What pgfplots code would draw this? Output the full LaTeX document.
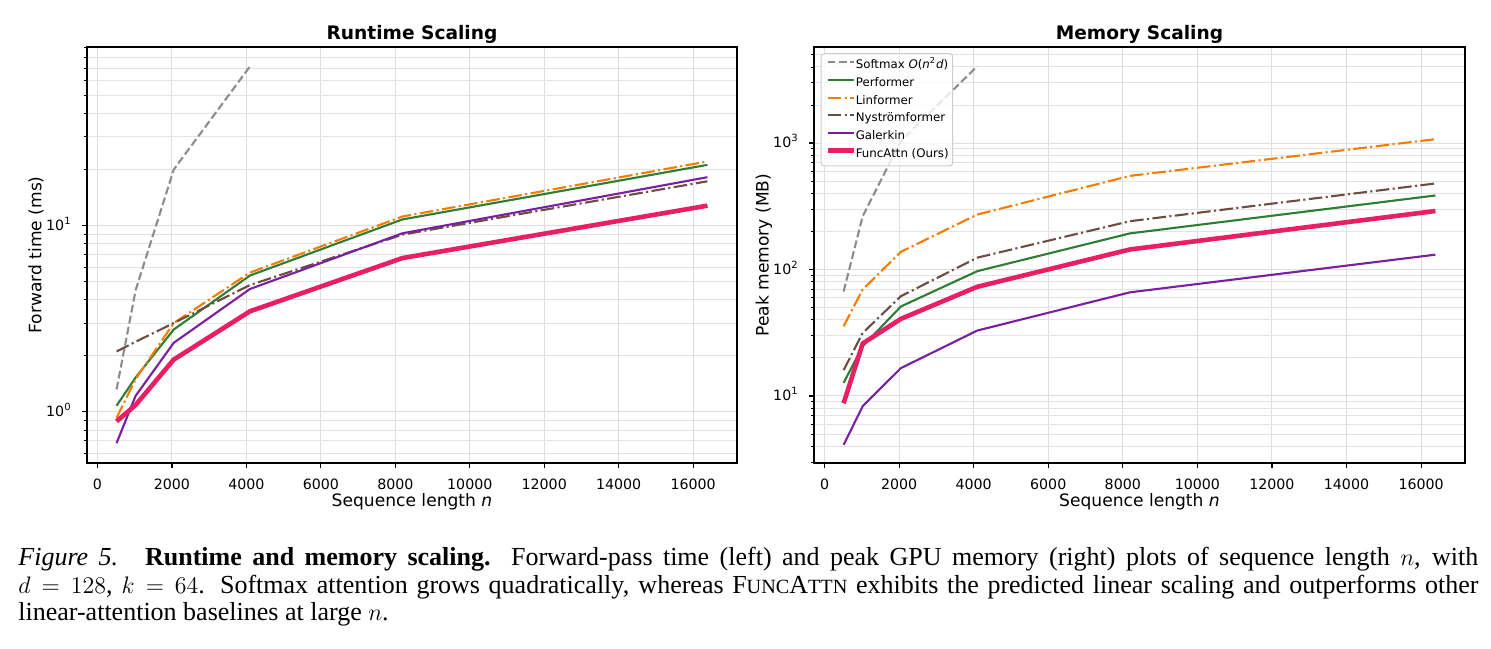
\documentclass[border=0pt]{standalone}
\usepackage{fontspec}
\setmainfont{Liberation Serif}
\newfontfamily\dejavu{DejaVu Sans}
\usepackage{pgfplots}
\pgfplotsset{compat=1.18}

\definecolor{cSoft}{RGB}{140,140,140}
\definecolor{cPerf}{HTML}{2E7D32}
\definecolor{cLin}{HTML}{F57C00}
\definecolor{cNys}{HTML}{6D4C41}
\definecolor{cGal}{HTML}{7B1FA2}
\definecolor{cFunc}{HTML}{E91E63}

\newcommand\fakesc[1]{{\fontsize{10.1bp}{12bp}\selectfont #1}}

\pgfplotsset{
  scalingaxis/.style={
    scale only axis, width=325bp, height=208bp,
    xmin=-282, xmax=17178,
    xtick={0,2000,...,16000},
    scaled x ticks=false,
    axis line style={black, line width=0.55bp},
    tick align=outside, tick pos=left,
    major tick length=2.5bp, minor tick length=1.45bp,
    every tick/.style={black, line width=0.55bp},
    every minor tick/.style={black, line width=0.4bp},
    grid=both,
    major grid style={black!13, line width=0.5bp},
    minor grid style={black!11, line width=0.45bp},
    /pgf/number format/assume math mode=true,
    /pgf/number format/set thousands separator={},
    ticklabel style={font=\dejavu\fontsize{7.1bp}{8.5bp}\selectfont, inner sep=0pt},
    xticklabel style={anchor=base, yshift=-11bp},
    yticklabel style={anchor=mid east, xshift=-5bp},
    xlabel={Sequence length \textit{n}},
    every axis x label/.style={at={(axis description cs:0.5,0)}, anchor=base,
      yshift=-21.85bp, font=\dejavu\fontsize{8.55bp}{10bp}\selectfont, inner sep=0pt},
    every axis title/.style={at={(axis description cs:0.5,1)}, anchor=base,
      yshift=3.85bp, font=\dejavu\bfseries\fontsize{9.3bp}{11bp}\selectfont, inner sep=0pt},
    every axis plot/.append style={line join=round},
  },
  softmax/.style={cSoft, line width=1.05bp, dash pattern=on 3.9bp off 1.7bp},
  performer/.style={cPerf, line width=1.05bp},
  linformer/.style={cLin, line width=1.05bp, dash pattern=on 6.8bp off 1.7bp on 1.05bp off 1.7bp},
  nystrom/.style={cNys, line width=1.05bp, dash pattern=on 6.8bp off 1.7bp on 1.05bp off 1.7bp},
  galerkin/.style={cGal, line width=1.05bp},
  funcattn/.style={cFunc, line width=2.3bp},
}

\begin{document}
\begin{tikzpicture}
\useasboundingbox (0,0) rectangle (745.5bp,324.5bp);

% ---------------- forward time ----------------
\begin{axis}[ymode=log, scalingaxis, at={(43.5bp,93bp)}, anchor=south west,
  title={Runtime Scaling},
  ymin=0.532, ymax=91,
  ytick={1,10}, yticklabels={10\textsuperscript{0},10\textsuperscript{1}},
  minor ytick={0.6,0.7,0.8,0.9,2,3,4,5,6,7,8,9,20,30,40,50,60,70,80,90},
  ylabel={Forward time (ms)},
  every axis y label/.style={at={(axis description cs:-0.0785,0.5)}, rotate=90,
    anchor=center, font=\dejavu\fontsize{8.55bp}{10bp}\selectfont, inner sep=0pt},
]
\addplot[softmax] coordinates {(512,1.32) (1024,4.5) (2048,20) (4096,71.6)};
\addplot[performer] coordinates {(512,1.08) (1024,1.53) (2048,2.77) (4096,5.4) (8192,10.8) (16384,21.2)};
\addplot[linformer] coordinates {(512,0.93) (1024,1.5) (2048,3.0) (4096,5.6) (8192,11.2) (16384,22.1)};
\addplot[nystrom] coordinates {(512,2.11) (1024,2.38) (2048,3.0) (4096,4.8) (8192,8.95) (16384,17.3)};
\addplot[galerkin] coordinates {(512,0.68) (1024,1.22) (2048,2.35) (4096,4.57) (8192,9.1) (16384,18.2)};
\addplot[funcattn] coordinates {(512,0.89) (1024,1.09) (2048,1.91) (4096,3.47) (8192,6.7) (16384,12.8)};
\end{axis}

% ---------------- peak memory ----------------
\begin{axis}[ymode=log, scalingaxis, at={(407bp,93bp)}, anchor=south west, width=325.5bp,
  title={Memory Scaling},
  ymin=2.95, ymax=5750,
  ytick={10,100,1000}, yticklabels={10\textsuperscript{1},10\textsuperscript{2},10\textsuperscript{3}},
  minor ytick={3,4,5,6,7,8,9,20,30,40,50,60,70,80,90,200,300,400,500,600,700,800,900,2000,3000,4000,5000},
  ylabel={Peak memory (MB)},
  every axis y label/.style={at={(axis description cs:-0.0768,0.5)}, rotate=90,
    anchor=center, font=\dejavu\fontsize{8.55bp}{10bp}\selectfont, inner sep=0pt},
  legend cell align=left,
  legend image code/.code={\draw[#1] (0bp,1.7bp) -- (13bp,1.7bp);},
  legend style={at={(axis description cs:0.0103,0.985)}, anchor=north west,
    draw=black!20, line width=0.5bp, fill=white, fill opacity=0.8, text opacity=1,
    rounded corners=1.5bp, font=\dejavu\fontsize{5.9bp}{6.8bp}\selectfont,
    inner xsep=2bp, inner ysep=3bp, row sep=3bp,
    nodes={inner sep=0pt, text height=4.5bp, text depth=1.35bp},
    /tikz/every even column/.append style={column sep=4bp}},
]
\addplot[softmax] coordinates {(512,67) (1024,264) (2048,1040) (4096,4045)};
\addlegendentry{Softmax \textit{O}(\textit{n}\textsuperscript{2}\textit{d})}
\addplot[performer] coordinates {(512,12.7) (1024,24.7) (2048,51) (4096,97) (8192,193) (16384,385)};
\addlegendentry{Performer}
\addplot[linformer] coordinates {(512,35.6) (1024,69.5) (2048,138) (4096,272) (8192,550) (16384,1073)};
\addlegendentry{Linformer}
\addplot[nystrom] coordinates {(512,16) (1024,31.5) (2048,61.5) (4096,124) (8192,241) (16384,479)};
\addlegendentry{Nyströmformer}
\addplot[galerkin] coordinates {(512,4.1) (1024,8.3) (2048,16.6) (4096,32.9) (8192,66) (16384,131)};
\addlegendentry{Galerkin}
\addplot[funcattn] coordinates {(512,8.75) (1024,26) (2048,40.7) (4096,73) (8192,144) (16384,290)};
\addlegendentry{FuncAttn (Ours)}
\end{axis}

% ---------------- caption ----------------
\node[anchor=base west, text width=730bp, align=justify, inner sep=0pt,
      font=\fontsize{13bp}{13.75bp}\selectfont] at (9bp,41.5bp)
  {\textit{Figure 5.}\hspace{0.25em} \textbf{Runtime and memory scaling.} Forward-pass time (left) and peak GPU memory (right) plots of sequence length $n$, with\linebreak
   $d=128$, $k=64$. Softmax attention grows quadratically, whereas F\fakesc{UNC}A\fakesc{TTN} exhibits the predicted linear scaling and outperforms other\linebreak
   linear-attention baselines at large $n$.};
\end{tikzpicture}
\end{document}
